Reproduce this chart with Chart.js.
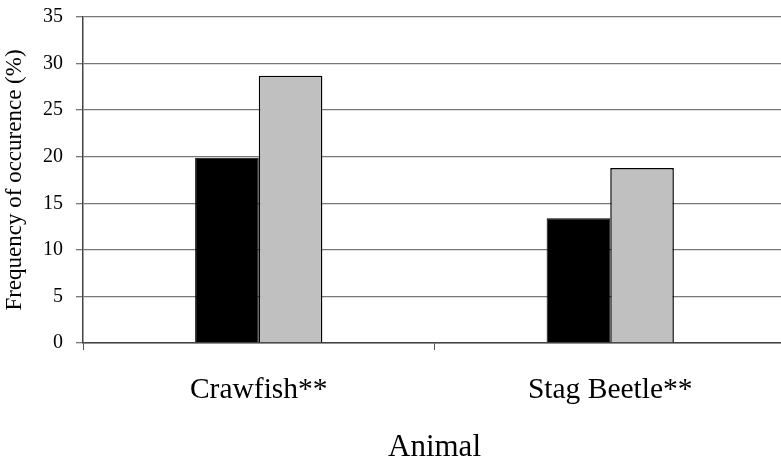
<!DOCTYPE html>
<html>
<head>
<meta charset="utf-8">
<script src="https://cdn.jsdelivr.net/npm/chart.js@4"></script>
<style>
  html, body { margin: 0; padding: 0; background: #fff; overflow: hidden; }
  #wrap { width: 790px; height: 463px; }
</style>
</head>
<body>
<div id="wrap"><canvas id="chart"></canvas></div>
<script>
const categories = ['Crawfish**', 'Stag Beetle**'];
const seriesBlack = [19.9, 13.4];
const seriesGray = [28.7, 18.8];
const yTicks = [0, 5, 10, 15, 20, 25, 30, 35];

const serif = '"Liberation Serif", "Times New Roman", serif';

new Chart(document.getElementById('chart'), {
  type: 'bar',
  data: {
    labels: categories,
    datasets: [
      { label: 'Series 1', data: seriesBlack, backgroundColor: '#000000', borderColor: '#000000', borderWidth: 1 },
      { label: 'Series 2', data: seriesGray, backgroundColor: '#c0c0c0', borderColor: '#000000', borderWidth: 1.5 }
    ]
  },
  options: {
    responsive: true,
    maintainAspectRatio: false,
    animation: false,
    layout: { padding: { top: 17, right: 4, left: 0, bottom: 0 } },
    plugins: { legend: { display: false }, tooltip: { enabled: false } },
    datasets: { bar: { barPercentage: 1, categoryPercentage: 0.362 } },
    scales: {
      x: {
        afterFit: (s) => { s.height = 120; s.paddingLeft = 0; s.paddingRight = 0; },
        grid: { drawOnChartArea: false, drawTicks: true, tickLength: 7, color: '#555', offset: true },
        border: { color: '#444', width: 1.5 },
        ticks: { color: '#000', font: { family: serif, size: 29.5 }, padding: 23 },
        title: { display: true, text: 'Animal', color: '#000', font: { family: serif, size: 31, lineHeight: 1 }, padding: { top: 0, bottom: 0 } }
      },
      y: {
        min: 0,
        max: 35,
        afterFit: (s) => { s.width = 83; s.paddingTop = 0; s.paddingBottom = 0; },
        afterBuildTicks: (s) => { s.ticks = yTicks.map((v) => ({ value: v })); },
        grid: { color: '#777', lineWidth: 1.3, drawTicks: true, tickLength: 7 },
        border: { color: '#444', width: 1.5 },
        ticks: { color: '#000', font: { family: serif, size: 20 }, padding: 13 },
        title: { display: true, text: 'Frequency of occurence (%)', color: '#000', font: { family: serif, size: 23, lineHeight: 1.2 }, padding: { top: 1, bottom: 0 } }
      }
    }
  }
});
</script>
</body>
</html>
